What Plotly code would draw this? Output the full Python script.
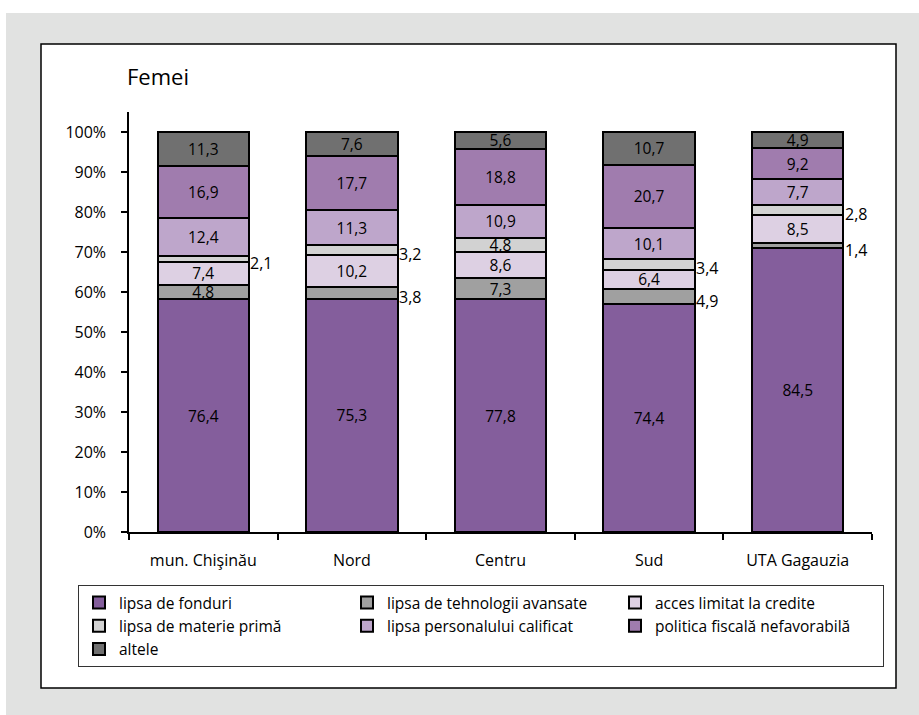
import plotly.graph_objects as go

categories = ["mun. Chişinău", "Nord", "Centru", "Sud", "UTA Gagauzia"]

series_names = [
    "lipsa de fonduri",
    "lipsa de tehnologii avansate",
    "acces limitat la credite",
    "lipsa de materie primă",
    "lipsa personalului calificat",
    "politica fiscală nefavorabilă",
    "altele",
]

lipsa_fonduri = [76.4, 75.3, 77.8, 74.4, 84.5]
lipsa_tehnologii = [4.8, 3.8, 7.3, 4.9, 1.4]
acces_credite = [7.4, 10.2, 8.6, 6.4, 8.5]
materie_prima = [2.1, 3.2, 4.8, 3.4, 2.8]
personal_calificat = [12.4, 11.3, 10.9, 10.1, 7.7]
politica_fiscala = [16.9, 17.7, 18.8, 20.7, 9.2]
altele = [11.3, 7.6, 5.6, 10.7, 4.9]

y_tick_values = [0, 10, 20, 30, 40, 50, 60, 70, 80, 90, 100]
y_tick_labels = ["0%", "10%", "20%", "30%", "40%", "50%", "60%", "70%", "80%", "90%", "100%"]

series_values = [lipsa_fonduri, lipsa_tehnologii, acces_credite, materie_prima,
                 personal_calificat, politica_fiscala, altele]

colors = ["#845e9c", "#a0a0a0", "#ddd0e3", "#d2d2d2", "#bea6cb", "#a07cae", "#707070"]

# labels drawn outside (to the right of the bar): (series index, category index)
outside_labels = {(1, 1), (1, 3), (1, 4), (3, 0), (3, 1), (3, 3), (3, 4)}

W, H = 919, 715
L, R, T, B = 129, 47, 112, 183
pw, ph = W - L - R, H - T - B


def px_x(p):
    return (p - L) / pw


def px_y(p):
    return (H - B - p) / ph


def fmt(v):
    return f"{v:.1f}".replace(".", ",")


fig = go.Figure()
for si, (name, vals, col) in enumerate(zip(series_names, series_values, colors)):
    texts = ["" if (si, ci) in outside_labels else fmt(v) for ci, v in enumerate(vals)]
    fig.add_trace(go.Bar(
        name=name, x=categories, y=vals,
        marker=dict(color=col, line=dict(color="black", width=2)),
        text=texts, textposition="inside", insidetextanchor="middle",
        textangle=0, textfont=dict(color="black", size=15.5),
        hoverinfo="skip",
    ))

totals = [sum(s[ci] for s in series_values) for ci in range(len(categories))]
for (si, ci) in sorted(outside_labels):
    below = sum(series_values[k][ci] for k in range(si))
    mid = (below + series_values[si][ci] / 2) / totals[ci] * 100
    fig.add_annotation(x=categories[ci], y=mid, xref="x", yref="y",
                       text=fmt(series_values[si][ci]), showarrow=False,
                       xanchor="left", xshift=45, yshift=-4,
                       font=dict(size=16, color="black"))

shapes = [
    dict(type="rect", xref="paper", yref="paper", layer="below",
         x0=px_x(6), x1=px_x(925), y0=px_y(720), y1=px_y(13),
         fillcolor="#e1e2e1", line=dict(width=0)),
    dict(type="rect", xref="paper", yref="paper", layer="below",
         x0=px_x(41), x1=px_x(896), y0=px_y(688), y1=px_y(44),
         fillcolor="white", line=dict(color="black", width=1.5)),
]

fig.update_layout(
    width=W, height=H,
    margin=dict(l=L, r=R, t=T, b=B),
    paper_bgcolor="white", plot_bgcolor="white",
    font=dict(family="Open Sans", size=16, color="black"),
    barmode="stack", barnorm="percent", bargap=0.385,
    uniformtext=dict(minsize=15.5, mode="show"),
    shapes=shapes,
    title=dict(text="Femei", x=127 / W, xanchor="left", xref="container",
               y=1 - 77 / H, yanchor="middle", yref="container",
               font=dict(size=22, color="black")),
    showlegend=True,
    legend=dict(orientation="h", x=px_x(78), y=px_y(585), xanchor="left", yanchor="top",
                bordercolor="#333333", borderwidth=1, bgcolor="white",
                entrywidth=223, entrywidthmode="pixels", traceorder="normal",
                font=dict(size=15.5)),
    xaxis=dict(showline=True, linecolor="black", linewidth=1.5, ticks="outside",
               tickson="boundaries", ticklen=6, tickwidth=1.5, tickcolor="black",
               ticklabelstandoff=13, showgrid=False, fixedrange=True),
    yaxis=dict(range=[0, 105], tickvals=y_tick_values, ticktext=y_tick_labels,
               showline=True, linecolor="black", linewidth=1.5, ticks="outside",
               ticklen=6, tickwidth=1.5, tickcolor="black", ticklabelstandoff=12,
               showgrid=False, zeroline=False, fixedrange=True),
)

fig.write_html("out.html", config={"displayModeBar": False},
               post_script="document.body.style.margin='0';document.body.style.overflow='hidden';")
